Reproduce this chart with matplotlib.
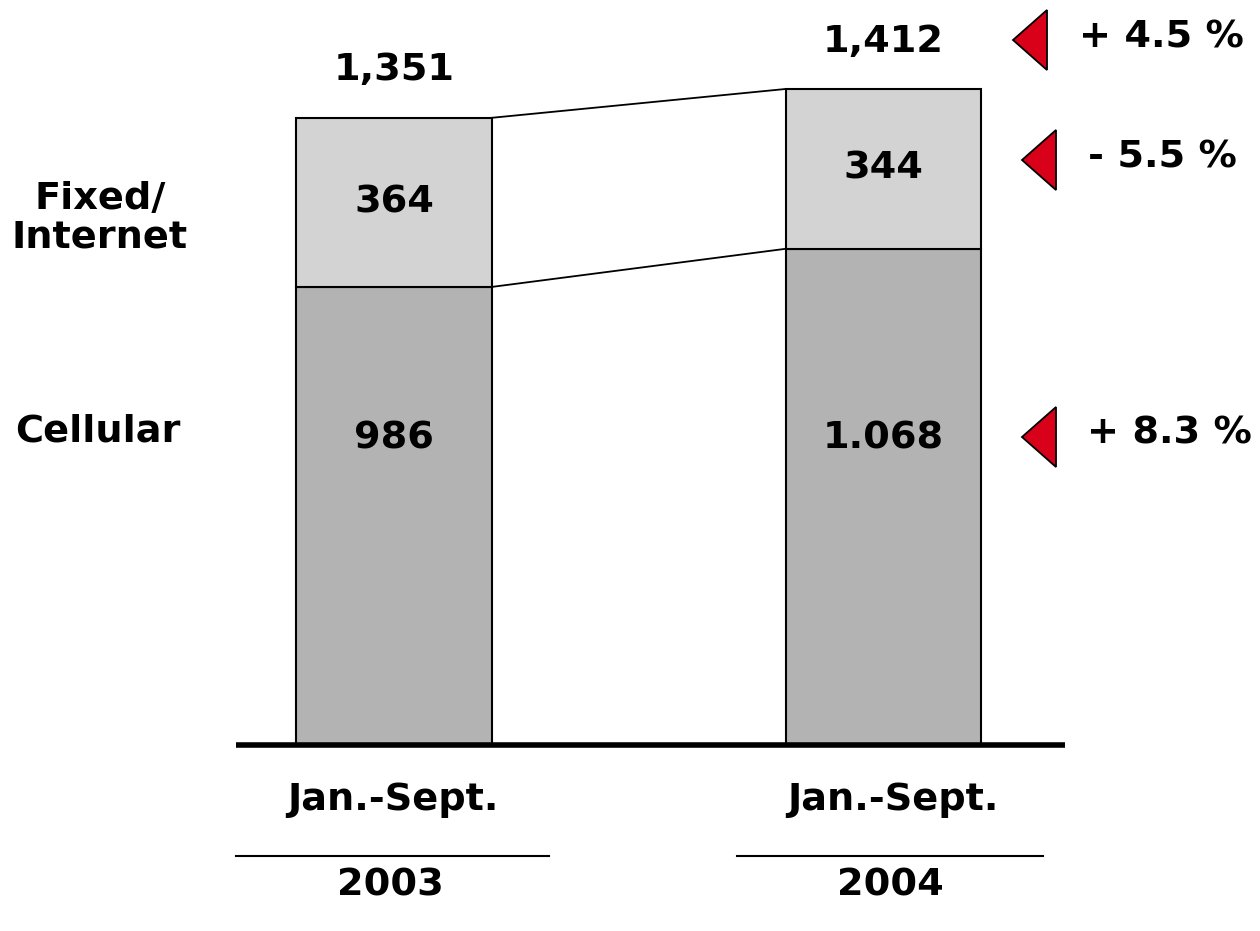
import matplotlib
matplotlib.use("Agg")
import matplotlib.pyplot as plt
from matplotlib.patches import Polygon
from matplotlib.lines import Line2D

# data
periods = ["Jan.-Sept.", "Jan.-Sept."]
years = ["2003", "2004"]
cellular = [986, 1068]
fixed = [364, 344]
cellular_labels = ["986", "1.068"]
fixed_labels = ["364", "344"]
total_labels = ["1,351", "1,412"]
changes = ["+ 4.5 %", "- 5.5 %", "+ 8.3 %"]

W, H = 1260, 931
plt.rcParams['font.family'] = ['DejaVu Sans']
fig = plt.figure(figsize=(W / 100, H / 100), dpi=100)


def fx(px):
    return px / W


def fy(py):
    return 1 - py / H


# axes: baseline at pixel row 745, ~0.4646 px per unit
ax = fig.add_axes([0, fy(745), 1, 745 / H])
ax.set_ylim(0, 745 / 0.4646)
ax.set_xlim(-394 / 489.5, (W - 394) / 489.5)
ax.axis("off")

x = [0, 1]
width = 0.4
light = "#d3d3d3"
dark = "#b3b3b3"

ax.bar(x, cellular, width=width, color=dark, edgecolor="black", linewidth=1.5)
ax.bar(x, fixed, width=width, bottom=cellular, color=light, edgecolor="black", linewidth=1.5)

# connecting lines between bars
tops = [c + f for c, f in zip(cellular, fixed)]
ax.plot([x[0] + width / 2, x[1] - width / 2], [tops[0], tops[1]], color="black", lw=1.3)
ax.plot([x[0] + width / 2, x[1] - width / 2], [cellular[0], cellular[1]], color="black", lw=1.3)

# baseline
ax.plot([-0.323, 1.371], [0, 0], color="black", lw=4, solid_capstyle="butt", clip_on=False)

fs = 27.5
for i in range(2):
    ax.text(x[i], cellular[i] + fixed[i] / 2, fixed_labels[i], ha="center", va="center",
            fontsize=fs, fontweight="bold")
    ax.text(x[i], 660, cellular_labels[i], ha="center", va="center",
            fontsize=fs, fontweight="bold")
    ax.text(x[i], tops[i] + 102, total_labels[i], ha="center", va="center",
            fontsize=fs, fontweight="bold", clip_on=False)

# category labels under the axis
for cx, period, year, (l0, l1) in zip([393, 893], periods, years, [(236, 549), (737, 1043)]):
    fig.text(fx(cx), fy(800), period, ha="center", va="center", fontsize=fs, fontweight="bold")
    fig.add_artist(Line2D([fx(l0), fx(l1)], [fy(856), fy(856)], color="black", lw=1.5))
    fig.text(fx(cx - 3), fy(886), year, ha="center", va="center", fontsize=fs, fontweight="bold")

# series labels on the left
fig.text(fx(100), fy(218), "Fixed/\nInternet", ha="center", va="center", fontsize=fs,
         fontweight="bold", linespacing=1.1)
fig.text(fx(98), fy(432), "Cellular", ha="center", va="center", fontsize=fs, fontweight="bold")

# change markers
marks = [(1013, 40, 1161), (1022, 160, 1162), (1022, 437, 1169)]
for (tx, ty, lx), label in zip(marks, changes):
    tri = Polygon([(fx(tx), fy(ty)), (fx(tx + 34), fy(ty - 30)), (fx(tx + 34), fy(ty + 30))],
                  closed=True, facecolor="#d9001a", edgecolor="black", lw=1.3,
                  transform=fig.transFigure)
    fig.add_artist(tri)
    fig.text(fx(lx), fy(ty - 3), label, ha="center", va="center",
             fontsize=fs, fontweight="bold")

fig.savefig("out.png", dpi=100, facecolor="white")
